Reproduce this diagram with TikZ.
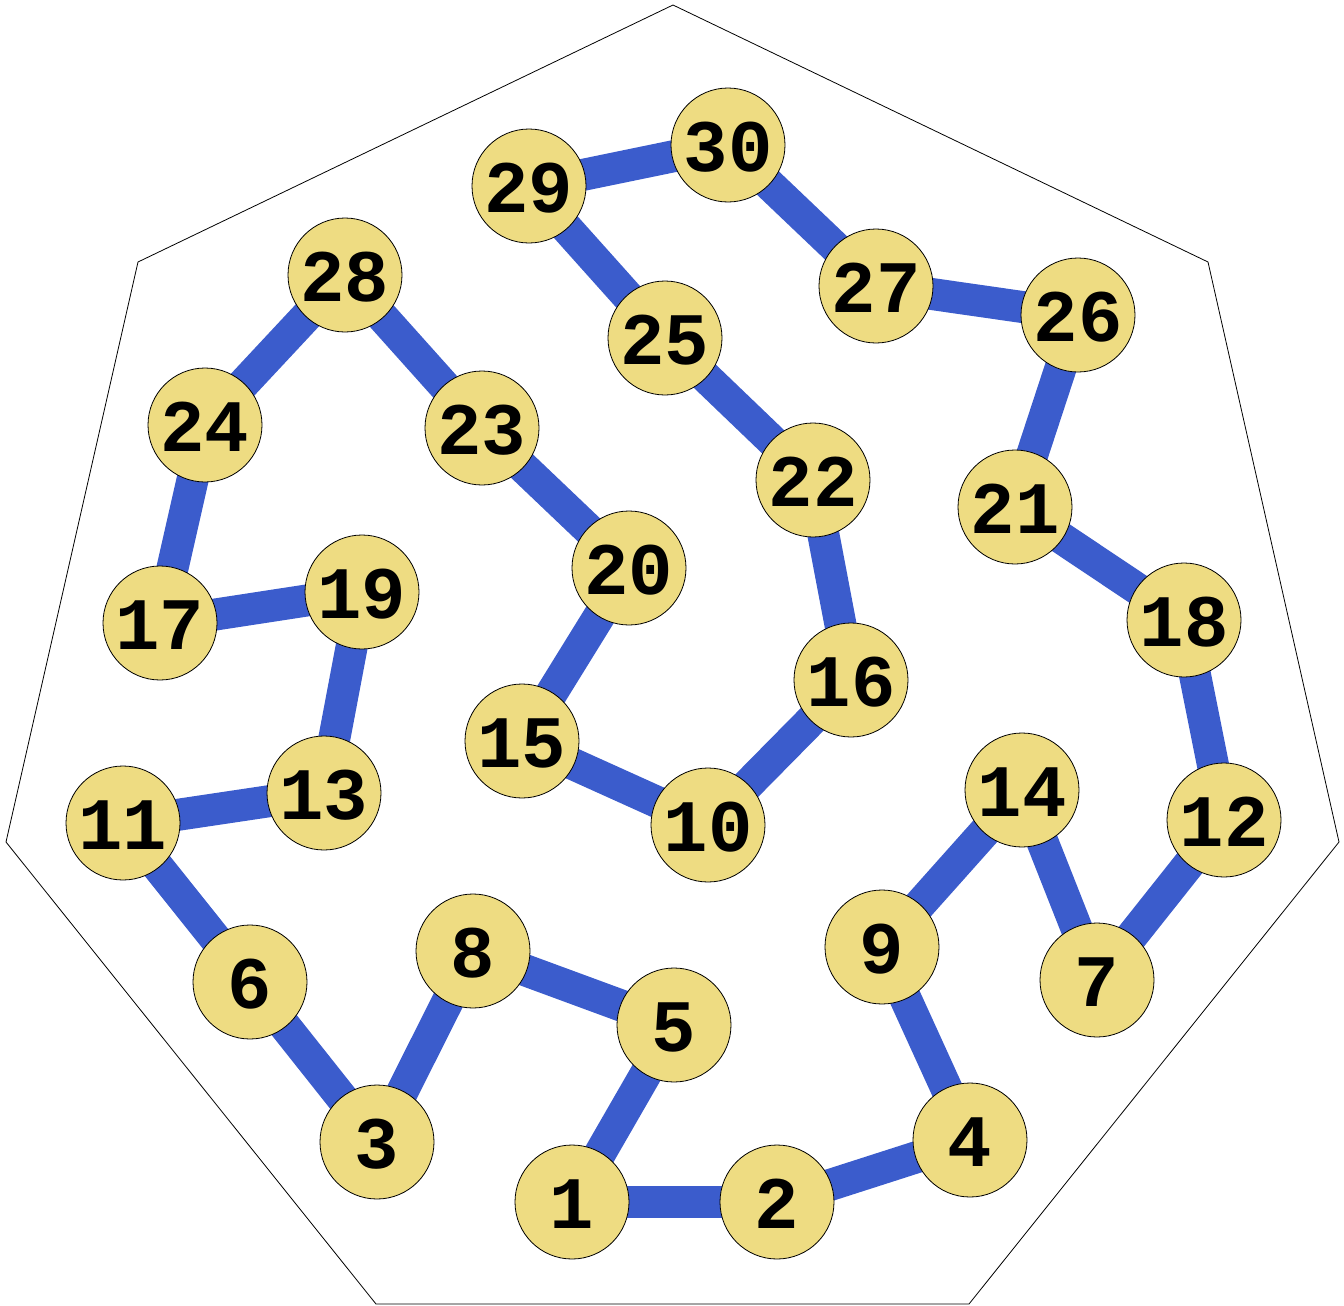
\documentclass[tikz,border=0pt]{standalone}
\usepackage{fontspec}
\newfontfamily\monob{Liberation Mono}
\definecolor{edgeblue}{RGB}{59,92,204}
\definecolor{nodefill}{RGB}{238,220,130}
\begin{document}
\begin{tikzpicture}[x=1pt,y=-1pt,
  vtx/.style={circle,draw=black,line width=0.8pt,fill=nodefill,minimum size=114pt,inner sep=0pt,text height=52pt,text depth=0pt,font=\monob\bfseries\fontsize{74}{74}\selectfont},
  link/.style={edgeblue,line width=32pt}]
\useasboundingbox (0,0) rectangle (1344,1306);
\draw[line width=0.8pt] (673,5) -- (1208,262) -- (1339,842) -- (969,1304) -- (376,1304) -- (6,842) -- (138,262) -- cycle;
\foreach \n/\x/\y in {1/572/1202,2/777/1202,4/970/1140,9/882/947,14/1022/790,7/1097/980,12/1224/820,18/1184/620,21/1015/507,26/1078/315,27/876/286,30/728/145,29/529/186,25/665/338,22/813/480,16/851/680,10/708/825,15/522/741,20/629/568,23/482/428,28/345/275,24/205/425,17/160/623,19/362/592,13/324/793,11/123/823,6/250/982,3/377/1142,8/473/951,5/674/1025}
  \coordinate (c\n) at (\x,\y);
\foreach \a/\b in {1/2,2/4,4/9,9/14,14/7,7/12,12/18,18/21,21/26,26/27,27/30,30/29,29/25,25/22,22/16,16/10,10/15,15/20,20/23,23/28,28/24,24/17,17/19,19/13,13/11,11/6,6/3,3/8,8/5,5/1}
  \draw[link] (c\a) -- (c\b);
\foreach \n in {1,2,3,4,5,6,7,8,9,10,11,12,13,14,15,16,17,18,19,20,21,22,23,24,25,26,27,28,29,30}
  \node[vtx] (n\n) at (c\n) {\n};
\end{tikzpicture}
\end{document}
